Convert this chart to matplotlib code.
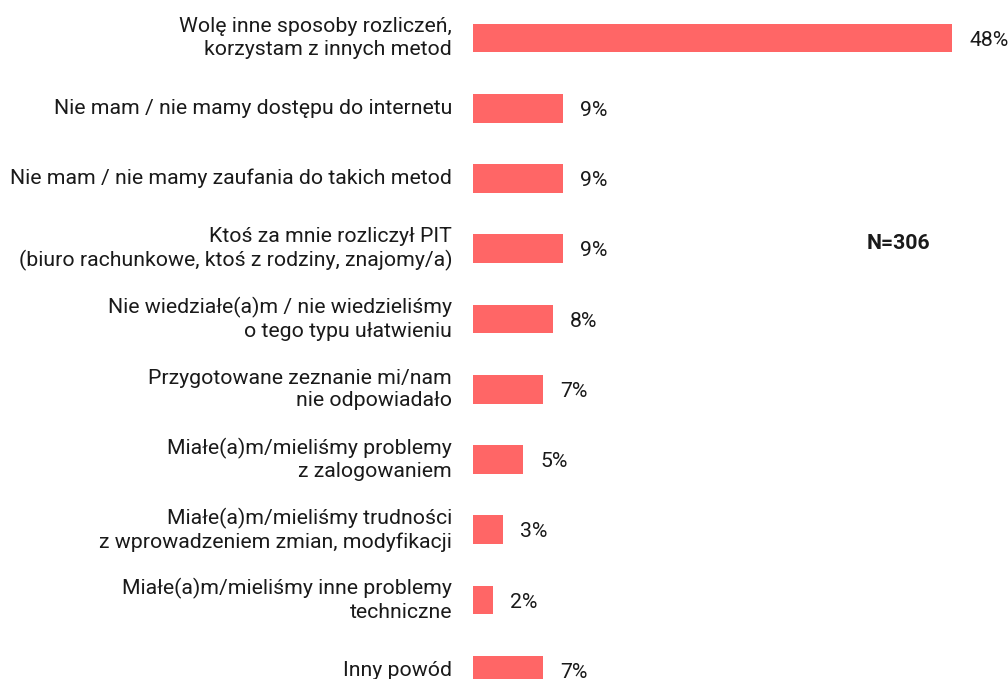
import matplotlib
matplotlib.use("Agg")
import matplotlib.pyplot as plt

labels = [
    "Wolę inne sposoby rozliczeń,\nkorzystam z innych metod",
    "Nie mam / nie mamy dostępu do internetu",
    "Nie mam / nie mamy zaufania do takich metod",
    "Ktoś za mnie rozliczył PIT\n(biuro rachunkowe, ktoś z rodziny, znajomy/a)",
    "Nie wiedziałe(a)m / nie wiedzieliśmy\no tego typu ułatwieniu",
    "Przygotowane zeznanie mi/nam\nnie odpowiadało",
    "Miałe(a)m/mieliśmy problemy\nz zalogowaniem",
    "Miałe(a)m/mieliśmy trudności\nz wprowadzeniem zmian, modyfikacji",
    "Miałe(a)m/mieliśmy inne problemy\ntechniczne",
    "Inny powód",
]
values = [48, 9, 9, 9, 8, 7, 5, 3, 2, 7]
note = "N=306"

plt.rcParams['font.family'] = ['Roboto', 'DejaVu Sans']
color = "#ff6666"
textc = "#1a1a1a"
fs = 15.3

fig = plt.figure(figsize=(10.08, 6.79), dpi=100)
# axes spans from bar origin (x=473px) to right edge, full height
ax = fig.add_axes([473 / 1008, 0, 1 - 473 / 1008, 1])
ax.axis("off")

ypos = list(range(len(values)))
ax.barh(ypos, values, height=0.41, color=color)
ax.set_xlim(0, (1008 - 473) / 9.97)
ax.set_ylim((679 - 38) / 70.25, -38 / 70.25)

for y, v, lab in zip(ypos, values, labels):
    ax.text(v + 1.75, y + 0.03, f"{v}%", ha="left", va="center", fontsize=fs, color=textc,
            clip_on=False)
    ax.text(-2.1, y, lab, ha="right", va="center", fontsize=fs, color=textc,
            linespacing=1.22, clip_on=False)

fig.text(898 / 1008, 1 - 243 / 679, note, ha="center", va="center",
         fontsize=fs, fontweight="bold", color=textc)

fig.savefig("out.png", dpi=100)
